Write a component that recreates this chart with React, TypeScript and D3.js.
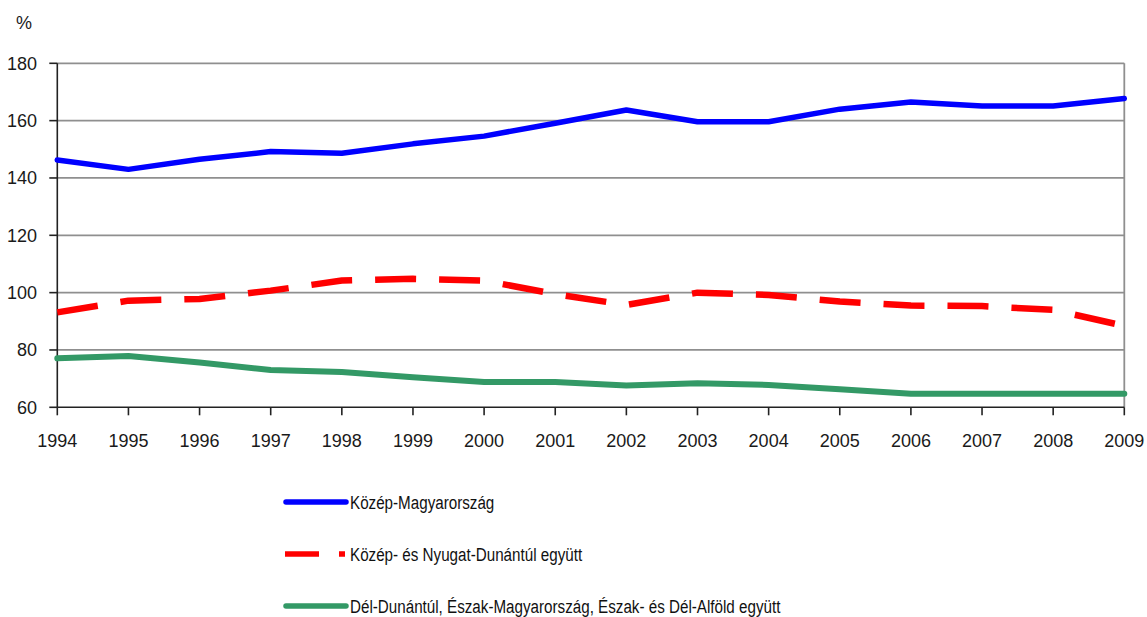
import React from "react";
import * as d3 from "d3";

const years = [1994, 1995, 1996, 1997, 1998, 1999, 2000, 2001, 2002, 2003, 2004, 2005, 2006, 2007, 2008, 2009];
const kozepMagyarorszag = [146.3, 143.0, 146.5, 149.2, 148.6, 151.9, 154.6, 159.1, 163.7, 159.6, 159.6, 164.0, 166.5, 165.1, 165.1, 167.7];
const kozepNyugatDunantul = [93.1, 97.2, 97.8, 100.7, 104.2, 104.8, 104.2, 99.5, 95.7, 100.0, 99.2, 96.9, 95.5, 95.3, 94.0, 88.4];
const delEszak = [77.1, 77.9, 75.6, 73.0, 72.3, 70.5, 68.8, 68.8, 67.6, 68.4, 67.8, 66.3, 64.7, 64.7, 64.7, 64.7];
const yTicks = [60, 80, 100, 120, 140, 160, 180];
const seriesNames = [
  "Közép-Magyarország",
  "Közép- és Nyugat-Dunántúl együtt",
  "Dél-Dunántúl, Észak-Magyarország, Észak- és Dél-Alföld együtt",
];

const W = 1147;
const H = 617;
const L = 57.3;
const R = 1124.3;
const T = 63.3;
const B = 407.3;

export default function App() {
  const x = d3.scaleLinear().domain([1994, 2009]).range([L, R]);
  const y = d3.scaleLinear().domain([60, 180]).range([B, T]);
  const line = d3
    .line<number>()
    .x((_, i) => x(years[i]))
    .y((d) => y(d));

  const series = [
    { name: seriesNames[0], values: kozepMagyarorszag, color: "#0000ff", width: 5.5, dash: undefined as string | undefined, legendDash: undefined as string | undefined },
    { name: seriesNames[1], values: kozepNyugatDunantul, color: "#ff0000", width: 6.5, dash: "41 23", legendDash: "34 20" },
    { name: seriesNames[2], values: delEszak, color: "#339966", width: 6, dash: undefined, legendDash: undefined },
  ];
  const legendY = [502, 554, 606];
  const tickFont = "'Liberation Sans', Arial, sans-serif";

  return (
    <svg width={W} height={H} style={{ position: "absolute", left: 0, top: 0, background: "#fff" }}>
      <rect x={0} y={0} width={W} height={H} fill="#fff" />
      {yTicks.filter((t) => t > 60).map((t) => (
        <line key={t} x1={L} x2={R} y1={y(t)} y2={y(t)} stroke="#8f8f8f" strokeWidth={1.8} />
      ))}
      <line x1={R} x2={R} y1={T} y2={B} stroke="#8f8f8f" strokeWidth={1.8} />
      <line x1={L} x2={L} y1={T} y2={B} stroke="#222" strokeWidth={1.6} />
      {yTicks.map((t) => (
        <g key={t}>
          <line x1={L - 8} x2={L} y1={y(t)} y2={y(t)} stroke="#222" strokeWidth={1.6} />
          <text x={37} y={y(t)} dy="0.35em" textAnchor="end" fontFamily={tickFont} fontSize={18} fill="#1a1a1a">
            {t}
          </text>
        </g>
      ))}
      <line x1={L} x2={R} y1={B} y2={B} stroke="#222" strokeWidth={1.6} />
      {years.map((yr) => (
        <g key={yr}>
          <line x1={x(yr)} x2={x(yr)} y1={B} y2={B + 8} stroke="#222" strokeWidth={1.6} />
          <text x={x(yr)} y={441} dy="0.35em" textAnchor="middle" fontFamily={tickFont} fontSize={18} fill="#1a1a1a">
            {yr}
          </text>
        </g>
      ))}
      <text x={16} y={23} dy="0.35em" fontFamily={tickFont} fontSize={18} fill="#1a1a1a">
        %
      </text>
      {series.map((s) => (
        <path
          key={s.name}
          d={line(s.values) || ""}
          fill="none"
          stroke={s.color}
          strokeWidth={s.width}
          strokeDasharray={s.dash}
          strokeLinejoin="round"
          strokeLinecap={s.dash ? "butt" : "round"}
        />
      ))}
      {series.map((s, i) => (
        <g key={"lg" + i}>
          <line
            x1={s.dash ? 285 : 286}
            x2={s.dash ? 345 : 346}
            y1={legendY[i]}
            y2={legendY[i]}
            stroke={s.color}
            strokeWidth={5.5}
            strokeDasharray={s.legendDash}
            strokeLinecap={s.dash ? "butt" : "round"}
          />
          <g transform={`translate(350, ${legendY[i]}) scale(0.8, 1)`}>
            <text x={0} y={0} dy="0.36em" fontFamily={tickFont} fontSize={19} fill="#111">
              {s.name}
            </text>
          </g>
        </g>
      ))}
    </svg>
  );
}
